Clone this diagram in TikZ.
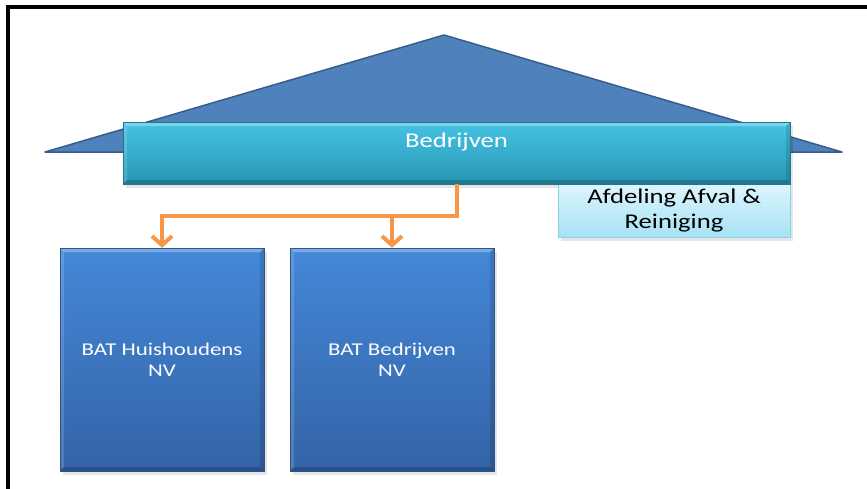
\documentclass[tikz,border=0pt]{standalone}
\usepackage{fontspec}
\usetikzlibrary{arrows.meta}
\newfontfamily\slidefont[FakeStretch=1.27]{Carlito}

\definecolor{roofFill}{HTML}{4F81BD}
\definecolor{roofLine}{HTML}{385D8A}
\definecolor{barTop}{HTML}{45C4E3}
\definecolor{barBottom}{HTML}{2895B4}
\definecolor{deptTop}{HTML}{DDF5FD}
\definecolor{deptBottom}{HTML}{A6E2F4}
\definecolor{deptLine}{HTML}{86D2EA}
\definecolor{unitTop}{HTML}{4488D8}
\definecolor{unitBottom}{HTML}{3463A6}
\definecolor{linkOrange}{HTML}{F79646}

\tikzset{
  bevel/.style={path picture={
    \fill[white,opacity=.30]
      (path picture bounding box.north west) -- (path picture bounding box.north east)
      -- ([xshift=-#1,yshift=-#1]path picture bounding box.north east)
      -- ([xshift=#1,yshift=-#1]path picture bounding box.north west) -- cycle;
    \fill[white,opacity=.15]
      (path picture bounding box.north west) -- ([xshift=#1,yshift=-#1]path picture bounding box.north west)
      -- ([xshift=#1,yshift=#1]path picture bounding box.south west)
      -- (path picture bounding box.south west) -- cycle;
    \fill[black,opacity=.20]
      (path picture bounding box.south west) -- (path picture bounding box.south east)
      -- ([xshift=-#1,yshift=#1]path picture bounding box.south east)
      -- ([xshift=#1,yshift=#1]path picture bounding box.south west) -- cycle;
    \fill[black,opacity=.12]
      (path picture bounding box.north east) -- ([xshift=-#1,yshift=-#1]path picture bounding box.north east)
      -- ([xshift=-#1,yshift=#1]path picture bounding box.south east)
      -- (path picture bounding box.south east) -- cycle;
  }},
  softshadow/.style={fill=black,opacity=.10},
  roof/.style={fill=roofFill,draw=roofLine,line width=1.5pt,line join=round},
  topbar/.style={rectangle,top color=barTop,bottom color=barBottom,
    draw=barBottom!80!black,line width=.4pt,bevel=4pt},
  dept/.style={rectangle,top color=deptTop,bottom color=deptBottom,
    draw=deptLine,line width=.8pt,text=black,align=center,
    font=\slidefont\fontsize{21}{25}\selectfont},
  unit/.style={rectangle,top color=unitTop,bottom color=unitBottom,
    draw=unitBottom!85!black,line width=.4pt,bevel=4pt,text=white,align=center,
    font=\slidefont\fontsize{18}{21}\selectfont},
  link/.style={draw=linkOrange,line width=4.5pt,line join=miter,
    -{Straight Barb[length=9pt,width=20pt,line width=4pt]}},
  frameline/.style={line width=4pt,line join=miter,draw=black}
}

\begin{document}
\begin{tikzpicture}[x=1pt,y=-1pt]
\useasboundingbox (0,0) rectangle (867,488);

% outer frame (only the top and left edges fall on the page)
\draw[frameline] (8,490) -- (8,6.5) -- (869,6.5);

% roof
\draw[roof] (45,152) -- (444,35) -- (842,152) -- cycle;

% drop shadows
\fill[softshadow] (561,188) rectangle (793,241);
\fill[softshadow] (126,126) rectangle (793,188);
\fill[softshadow] (63,252) rectangle (267,475);
\fill[softshadow] (293,252) rectangle (497,475);

% department box under the bar
\node[dept,minimum width=232pt,minimum height=53pt] (afval) at (674,210.5)
  {Afdeling Afval \&\\Reiniging};

% main bar
\node[topbar,minimum width=667pt,minimum height=62pt] (bar) at (456.5,153) {};
\node[text=white,font=\slidefont\fontsize{21}{25}\selectfont] (barlabel)
  at (456.5,142) {Bedrijven};

% units
\node[unit,minimum width=204pt,minimum height=223pt] (huis) at (162,359.5)
  {BAT Huishoudens\\NV};
\node[unit,minimum width=204pt,minimum height=223pt] (bedr) at (392,359.5)
  {BAT Bedrijven\\NV};

% connectors
\coordinate (split) at (457,216);
\draw[link] (bar.south -| split) -- (split) -| (huis.north);
\draw[link] (split -| bedr.north) -- (bedr.north);
\end{tikzpicture}
\end{document}
